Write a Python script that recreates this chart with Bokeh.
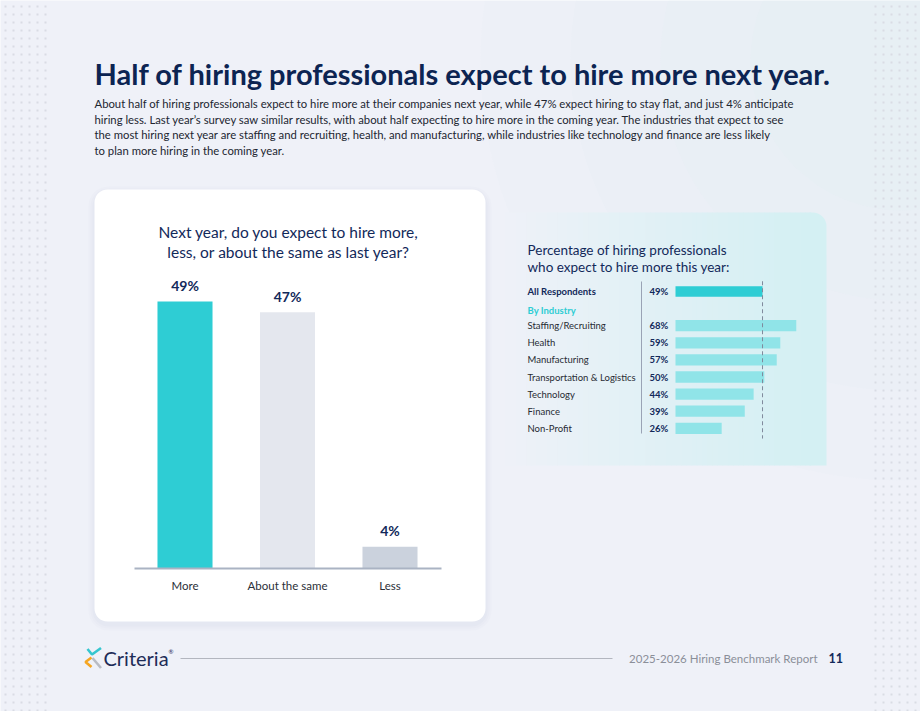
import numpy as np
from bokeh.plotting import figure
from bokeh.models import Range1d
from bokeh.core.properties import value
from bokeh.embed import file_html
from bokeh.resources import INLINE

# ---- data -------------------------------------------------------------
answer_cats = ["More", "About the same", "Less"]
answer_pct = [49, 47, 4]

all_label = "All Respondents"
all_pct = 49
industries = ["Staffing/Recruiting", "Health", "Manufacturing",
              "Transportation & Logistics", "Technology", "Finance", "Non-Profit"]
industry_pct = [68, 59, 57, 50, 44, 39, 26]

title = "Half of hiring professionals expect to hire more next year."
body_lines = [
    "About half of hiring professionals expect to hire more at their companies next year, while 47% expect hiring to stay flat, and just 4% anticipate",
    "hiring less. Last year\u2019s survey saw similar results, with about half expecting to hire more in the coming year. The industries that expect to see",
    "the most hiring next year are staffing and recruiting, health, and manufacturing, while industries like technology and finance are less likely",
    "to plan more hiring in the coming year.",
]
left_title = ["Next year, do you expect to hire more,", "less, or about the same as last year?"]
right_title = ["Percentage of hiring professionals", "who expect to hire more this year:"]
footer_text = "2025-2026 Hiring Benchmark Report"
page_no = "11"

# ---- style ------------------------------------------------------------
W, H = 920, 711
BG = "#eff1f8"
NAVY = "#12295a"
TEAL = "#2ecdd4"
TEAL_LIGHT = "#90e4e8"
SAME_GREY = "#e4e7ee"
LESS_GREY = "#cbd2dd"
FONT = value("Lato")

p = figure(width=W, height=H, x_range=Range1d(0, W), y_range=Range1d(H, 0),
           output_backend="svg", toolbar_location=None, min_border=0,
           background_fill_color=BG, border_fill_color=BG)
p.axis.visible = False
p.xgrid.visible = False
p.ygrid.visible = False
p.outline_line_color = None


def span_range(v0, px0, scale, length):
    """Range whose value v0 sits at pixel px0, scale px per unit, over a frame of given length."""
    return (v0 - px0 / scale, v0 + (length - px0) / scale)


# soft cyan glow in the upper right of the page
for r, a in [(420, 0.05), (330, 0.06), (240, 0.07), (150, 0.07)]:
    p.circle(x=[900], y=[60], radius=r, fill_color="#cfeff2", fill_alpha=a, line_color=None)

# dotted margins
gx_left = np.arange(5, 46, 8)
gx_right = np.arange(875, 916, 8)
gy = np.arange(6, H, 8)
for gx in (gx_left, gx_right):
    xx, yy = np.meshgrid(gx, gy)
    p.scatter(x=xx.ravel(), y=yy.ravel(), marker="square", size=2,
              fill_color="#d9dce4", line_color=None)

# ---- heading ----------------------------------------------------------
p.text(x=[94], y=[73], text=[title], text_font=FONT, text_font_style="bold",
       text_font_size="29px", text_color="#0c2452", text_baseline="middle")
p.text(x=[94] * len(body_lines), y=[103 + 15.7 * i for i in range(len(body_lines))],
       text=body_lines, text_font=FONT, text_font_size="11.3px", text_color="#222631",
       text_baseline="middle")

# ---- left card --------------------------------------------------------
for i, a in enumerate([0.025, 0.025, 0.03]):
    d = 6 - 2 * i
    p.quad(left=94 - d, right=485 + d, top=189 - d + 3, bottom=621 + d + 3,
           fill_color="#8a90b0", fill_alpha=a, line_color=None, border_radius=14 + d)
p.quad(left=94, right=485, top=189, bottom=621, fill_color="white", line_color=None,
       border_radius=13)

p.text(x=[288, 288], y=[231, 251], text=left_title, text_font=FONT, text_font_size="15.5px",
       text_color=NAVY, text_align="center", text_baseline="middle", text_font_style="normal")

# bar scales: baseline at pixel 568, 5.45 px per percentage point; categories 102.5 px apart
p.extra_y_ranges["ans_y"] = Range1d(*sorted(span_range(0, H - 568, 5.45, H)))
p.extra_x_ranges["ans_x"] = Range1d(*span_range(0, 184.5, 102.5, W))

ans_x = list(range(len(answer_cats)))
ans_colors = [TEAL, SAME_GREY, LESS_GREY]
p.vbar(x=ans_x, top=answer_pct, bottom=0, width=0.537, fill_color=ans_colors, line_color=None,
       x_range_name="ans_x", y_range_name="ans_y")
p.text(x=ans_x, y=[v + 2.9 for v in answer_pct], text=[f"{v}%" for v in answer_pct],
       x_range_name="ans_x", y_range_name="ans_y", text_font=FONT, text_font_size="14px",
       text_color=NAVY, text_align="center", text_baseline="middle", text_font_style="bold")
p.segment(x0=[134], x1=[441], y0=[568], y1=[568], line_color="#aab3c3", line_width=2)
p.text(x=ans_x, y=[-3.1] * len(ans_x), text=answer_cats, x_range_name="ans_x", y_range_name="ans_y",
       text_font=FONT, text_font_size="11.5px", text_color="#2b2f38", text_align="center",
       text_baseline="middle")

# ---- right panel ------------------------------------------------------
px0, px1, py0, py1 = 500, 826, 212, 465
bg_rgb = np.array([239, 241, 248])
end_rgb = np.array([212, 240, 243])
n_strips = 60
edges = np.linspace(px0, px1 - 16, n_strips + 1)
t = np.linspace(0, 1, n_strips) ** 0.9
cols = ["#%02x%02x%02x" % tuple(np.round(bg_rgb + (end_rgb - bg_rgb) * tt).astype(int)) for tt in t]
p.quad(left=edges[:-1], right=edges[1:] + 0.6, top=py0, bottom=py1, fill_color=cols, line_color=None)
p.quad(left=[px1 - 17], right=[px1], top=[py0], bottom=[py1], fill_color=cols[-1], line_color=None,
       border_radius=(0, 14, 0, 0))

p.text(x=[527, 527], y=[249, 266], text=right_title, text_font=FONT, text_font_size="13.5px",
       text_color=NAVY, text_baseline="middle")

# rows: 0 = all respondents, 1 = "By Industry" heading, 2.. = industries
p.extra_x_ranges["ind_x"] = Range1d(*span_range(0, 675, 1.776, W))
p.extra_y_ranges["ind_y"] = Range1d(*span_range(0, 291, 17.1, H)[::-1])

ind_rows = list(range(2, 2 + len(industries)))
p.segment(x0=[641], x1=[641], y0=[281], y1=[433], line_color="#9aa3b5", line_width=1)
p.hbar(y=[0], left=0, right=[all_pct], height=0.6, fill_color=TEAL, line_color=None,
       x_range_name="ind_x", y_range_name="ind_y")
p.hbar(y=ind_rows, left=0, right=industry_pct, height=0.66, fill_color=TEAL_LIGHT, line_color=None,
       x_range_name="ind_x", y_range_name="ind_y")
p.segment(x0=[all_pct], x1=[all_pct], y0=[-0.6], y1=[8.6], line_color="#7f8a9c", line_width=1,
          line_dash="4 3", x_range_name="ind_x", y_range_name="ind_y")

p.text(x=[527], y=[0], text=[all_label], y_range_name="ind_y", text_font=FONT,
       text_font_size="9.5px", text_font_style="bold", text_color=NAVY, text_baseline="middle")
p.text(x=[527], y=[1.1], text=["By Industry"], y_range_name="ind_y", text_font=FONT,
       text_font_size="9.5px", text_font_style="bold", text_color=TEAL, text_baseline="middle")
p.text(x=[527] * len(industries), y=ind_rows, text=industries, y_range_name="ind_y", text_font=FONT,
       text_font_size="9.5px", text_color="#272b33", text_baseline="middle")
p.text(x=[649] * (1 + len(industries)), y=[0] + ind_rows,
       text=[f"{v}%" for v in [all_pct] + industry_pct], y_range_name="ind_y", text_font=FONT,
       text_font_size="9.5px", text_font_style="bold", text_color=NAVY, text_baseline="middle")

# ---- footer -----------------------------------------------------------
p.multi_line(xs=[[87, 91.5, 100.5], [91, 85, 91], [92, 100.5]],
             ys=[[648.5, 654, 647.5], [657, 661.5, 666.5], [657.5, 667.5]],
             line_color=["#35c6cf", "#f5a623", "#b9bcc4"], line_width=2.6)
p.text(x=[103], y=[657], text=["Criteria"], text_font=FONT, text_font_size="20px",
       text_color="#1d2c57", text_baseline="middle")
p.text(x=[168], y=[651], text=["\u00ae"], text_font=FONT, text_font_size="6px",
       text_color="#1d2c57", text_baseline="middle")
p.segment(x0=[180], x1=[612], y0=[658], y1=[658], line_color="#b3b6bf", line_width=1)
p.text(x=[817], y=[658], text=[footer_text], text_font=FONT, text_font_size="11.5px",
       text_color="#8b8f99", text_align="right", text_baseline="middle")
p.text(x=[828], y=[657], text=[page_no], text_font=FONT, text_font_size="12.5px",
       text_font_style="bold", text_color=NAVY, text_baseline="middle")

open("out.html", "w").write(file_html(p, INLINE))
